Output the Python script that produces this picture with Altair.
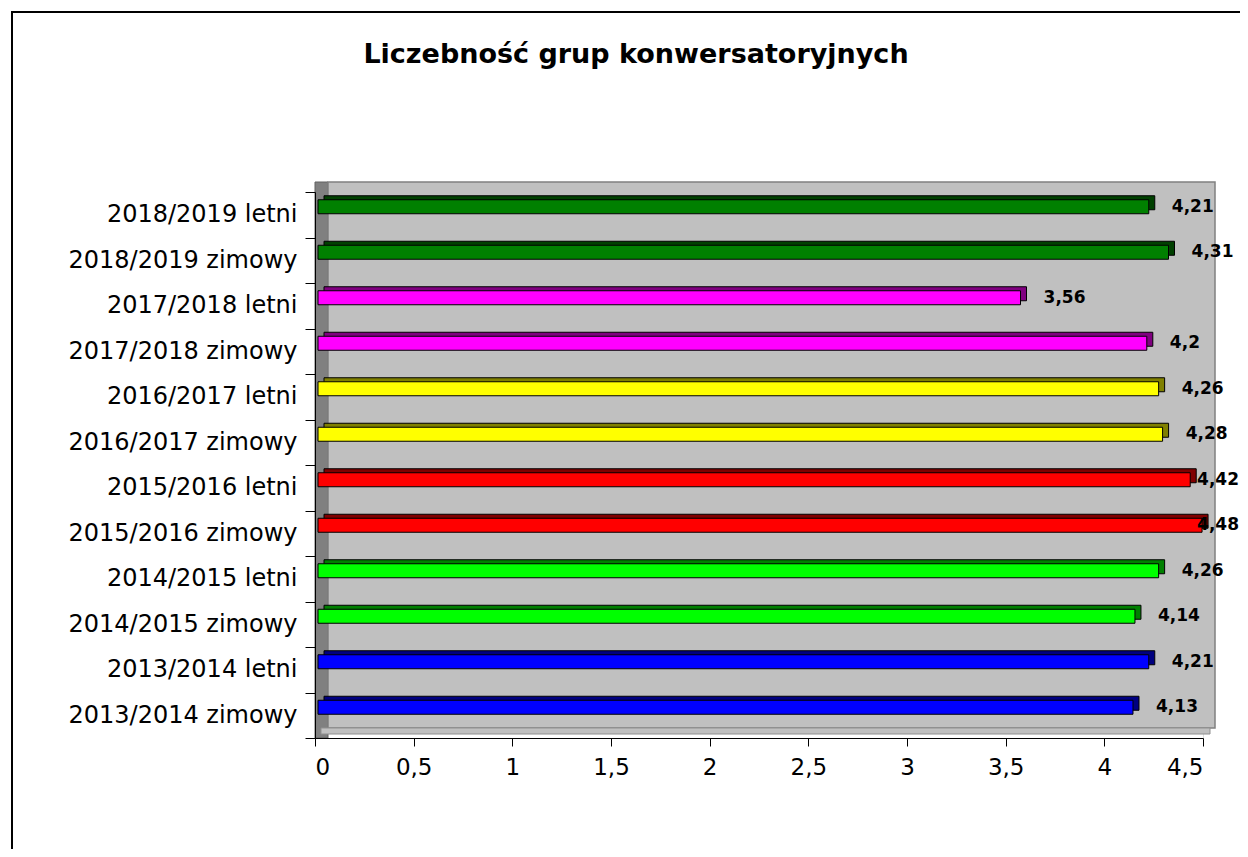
import altair as alt
import pandas as pd

categories = [
    "2013/2014 zimowy", "2013/2014 letni",
    "2014/2015 zimowy", "2014/2015 letni",
    "2015/2016 zimowy", "2015/2016 letni",
    "2016/2017 zimowy", "2016/2017 letni",
    "2017/2018 zimowy", "2017/2018 letni",
    "2018/2019 zimowy", "2018/2019 letni",
]
values = [4.13, 4.21, 4.14, 4.26, 4.48, 4.42, 4.28, 4.26, 4.2, 3.56, 4.31, 4.21]
years = ["2013/2014", "2014/2015", "2015/2016", "2016/2017", "2017/2018", "2018/2019"]
front_colors = ["#0000ff", "#00ff00", "#ff0000", "#ffff00", "#ff00ff", "#008000"]
side_colors = ["#000080", "#008000", "#800000", "#808000", "#800080", "#004000"]
x_ticks = [0, 0.5, 1, 1.5, 2, 2.5, 3, 3.5, 4, 4.5]
title_text = "Liczebność grup konwersatoryjnych"

df = pd.DataFrame({
    "kat": categories,
    "val": values,
    "rok": [c.split(" ")[0] for c in categories],
    "lab": [str(v).replace(".", ",") for v in values],
})

FONT = "DejaVu Sans"
W, H = 888, 546
XMAX = 4.5

xscale = alt.Scale(domain=[0, XMAX], nice=False)
ysort = categories[::-1]

y_enc = alt.Y("kat:N", sort=ysort,
              scale=alt.Scale(paddingInner=0, paddingOuter=0),
              axis=alt.Axis(title=None, tickBand="extent", tickSize=10,
                            tickColor="black", domainColor="black",
                            labelFont=FONT, labelFontSize=24, labelColor="black",
                            labelPadding=8, labelLimit=500, zindex=1))
x_axis = alt.Axis(title=None, values=x_ticks, tickSize=8,
                  tickColor="black", domainColor="black",
                  labelFont=FONT, labelFontSize=23, labelColor="black",
                  labelPadding=10, grid=False, zindex=1,
                  labelExpr="replace(format(datum.value, '~g'), '.', ',')")

one = alt.Data(values=[{}])

frame = alt.Chart(one).mark_rect(filled=False, stroke="black", strokeWidth=2).encode(
    x=alt.value(-303), x2=alt.value(960), y=alt.value(-180), y2=alt.value(700))
side_wall = alt.Chart(one).mark_rect(fill="#808080", stroke="#606060", strokeWidth=1).encode(
    x=alt.value(0), x2=alt.value(13), y=alt.value(-10), y2=alt.value(546))
back_wall = alt.Chart(one).mark_rect(fill="#c0c0c0", stroke="#808080", strokeWidth=1.5).encode(
    x=alt.value(13), x2=alt.value(900), y=alt.value(-10), y2=alt.value(536))
floor = alt.Chart(one).mark_rect(fill="#c0c0c0", stroke="#909090", strokeWidth=1).encode(
    x=alt.value(6), x2=alt.value(895), y=alt.value(536), y2=alt.value(542))
title = alt.Chart(one).mark_text(font=FONT, fontSize=27, fontWeight="bold", color="black",
                                 align="center", baseline="middle").encode(
    x=alt.value(321), y=alt.value(-137), text=alt.value(title_text))

base = alt.Chart(df)

depth = base.mark_bar(size=14, yOffset=-12, xOffset=9, x2Offset=9,
                      stroke="black", strokeWidth=1).encode(
    x=alt.X("val:Q", scale=xscale, axis=x_axis, stack=None),
    x2=alt.datum(0),
    y=y_enc,
    color=alt.Color("rok:N", scale=alt.Scale(domain=years, range=side_colors), legend=None),
)
front = base.mark_bar(size=14, yOffset=-8, xOffset=3, x2Offset=3,
                      stroke="black", strokeWidth=1).encode(
    x=alt.X("val:Q", scale=xscale, stack=None),
    x2=alt.datum(0),
    y=alt.Y("kat:N", sort=ysort),
    color=alt.Color("rok:N", scale=alt.Scale(domain=years, range=front_colors), legend=None),
)
labels = base.transform_calculate(
    labx=f"min(datum.val + 0.132, {XMAX - 0.03})"
).mark_text(align="left", baseline="middle", dy=-8,
            font=FONT, fontSize=17, fontWeight="bold", color="black").encode(
    x=alt.X("labx:Q", scale=xscale), y=alt.Y("kat:N", sort=ysort), text="lab:N")

chart = alt.layer(frame, side_wall, back_wall, floor, title, depth, front, labels).resolve_scale(
    color="independent"
).properties(
    width=W, height=H,
    autosize=alt.AutoSizeParams(type="none"),
    padding={"left": 307, "top": 184, "right": 37, "bottom": 111},
).configure_view(stroke=None).configure(background="white")

chart.save("out.html", embed_options={"renderer": "svg", "actions": False})
